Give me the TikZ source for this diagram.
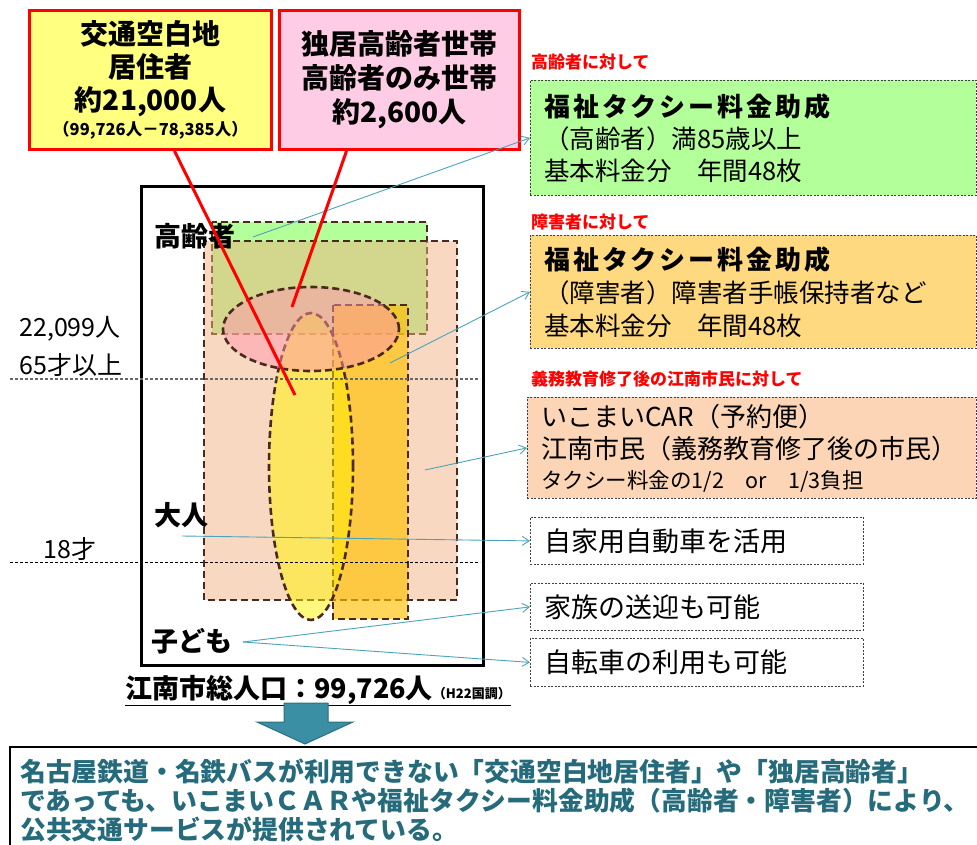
\documentclass[tikz,border=0pt]{standalone}
\usepackage{fontspec}
\setmainfont{Noto Sans CJK JP}
\usetikzlibrary{arrows.meta}
\newcommand{\myfs}[2]{\fontsize{#1}{#2}\selectfont}
\definecolor{ybfill}{HTML}{FFFF80}
\definecolor{pkfill}{HTML}{FFCCE5}
\definecolor{grfill}{HTML}{B3FF99}
\definecolor{orfill}{HTML}{FFD97F}
\definecolor{pcfill}{HTML}{FBD5B5}
\definecolor{brn}{HTML}{4A2A1E}
\definecolor{tealc}{HTML}{4BA3BC}
\definecolor{arrfill}{HTML}{3A8FA5}
\definecolor{arrdraw}{HTML}{2B6F80}
\definecolor{txtteal}{HTML}{256B7B}
\definecolor{peach}{HTML}{F4B183}
\definecolor{orng}{HTML}{FFC000}
\definecolor{pnk}{HTML}{FF96AF}
\begin{document}
\begin{tikzpicture}[x=1pt,y=-1pt,
  redbox/.style={draw=red, line width=3pt, align=center, inner sep=0pt, anchor=north west},
  svcbox/.style={draw=black!75, dash pattern=on 2pt off 1.5pt, line width=0.8pt, anchor=north west, align=left, inner xsep=14pt, inner ysep=0pt},
  redlbl/.style={anchor=west, text=red, font=\myfs{17}{20}\bfseries, inner sep=0pt},
  shp/.style={draw=brn, line width=2.6pt, dash pattern=on 7pt off 4pt},
  conn/.style={draw=tealc, line width=0.9pt, -{Straight Barb[length=7pt,width=9pt]}},
  redln/.style={draw=red, line width=3pt},
  lbl/.style={inner sep=0pt, font=\myfs{25}{28}},
  blbl/.style={inner sep=0pt, font=\myfs{27}{30}\bfseries}]
\useasboundingbox (0,0) rectangle (977,845);

% top call-out boxes
\node[redbox, fill=ybfill, minimum width=242pt, minimum height=139pt, font=\myfs{28}{33}\bfseries] (ybox) at (28,9)
  {交通空白地\\居住者\\約21,000人\\[-8pt]{\myfs{16.5}{18}\bfseries（99,726人－78,385人）}};
\node[redbox, fill=pkfill, minimum width=240pt, minimum height=139pt, font=\myfs{28}{34}\bfseries] (pbox) at (278,9)
  {独居高齢者世帯\\高齢者のみ世帯\\約2,600人};

% population frame
\node[draw, line width=3pt, minimum width=342pt, minimum height=479pt, anchor=north west, inner sep=0pt] (pop) at (140,185) {};

% overlapping groups
\draw[shp, fill=grfill] (212,222) rectangle (427,334);
\draw[shp, fill=peach, fill opacity=0.5] (204,241) rectangle (457,600);
\draw[shp, fill=orng, fill opacity=0.65] (333,305) rectangle (408,619);
\draw[shp, fill=yellow, fill opacity=0.5] (311,466.5) ellipse [x radius=42pt, y radius=153.5pt];
\draw[shp, fill=pnk, fill opacity=0.5] (311,329) ellipse [x radius=88pt, y radius=42pt];

% age lines
\draw[black!60, line width=1.2pt, dash pattern=on 3pt off 2pt] (10,379) -- (480,379);
\draw[black, line width=0.8pt, dash pattern=on 3pt off 2pt] (10,562) -- (480,562);

% left labels
\node[lbl] (n1) at (70,329) {22,099人};
\node[lbl] (n2) at (71,365) {65才以上};
\node[lbl] (n3) at (70,549) {18才};
\node[blbl] (old) at (195,236) {高齢者};
\node[blbl] (adult) at (181,515) {大人};
\node[blbl] (child) at (192,641) {子ども};

% caption
\node[anchor=base, inner sep=0pt, font=\myfs{27}{30}\bfseries] (cap) at (318,698)
  {\underline{江南市総人口：99,726人{\myfs{13}{15}\bfseries（H22国調）}}};

% right side labels and boxes
\node[redlbl] (l1) at (531,62) {高齢者に対して};
\node[svcbox, fill=grfill, minimum width=446pt, minimum height=115pt, text width=418pt, font=\myfs{25.5}{32}] (gbox) at (530,80)
  {{\myfs{26}{32}\bfseries\addfontfeature{LetterSpace=11}福祉タクシー料金助成}\\
   （高齢者）満85歳以上\\
   基本料金分　年間48枚};
\node[redlbl] (l2) at (531,222) {障害者に対して};
\node[svcbox, fill=orfill, minimum width=446pt, minimum height=113pt, text width=418pt, font=\myfs{25.5}{33}] (obox) at (530,235)
  {{\myfs{26}{33}\bfseries\addfontfeature{LetterSpace=11}福祉タクシー料金助成}\\
   （障害者）障害者手帳保持者など\\
   基本料金分　年間48枚};
\node[redlbl] (l3) at (531,379) {義務教育修了後の江南市民に対して};
\node[svcbox, fill=pcfill, minimum width=449pt, minimum height=101pt, text width=421pt, font=\myfs{26}{32}] (cbox) at (527,397)
  {いこまいCAR（予約便）\\
   江南市民（義務教育修了後の市民）\\[-2pt]
   {\myfs{21.5}{26}タクシー料金の1/2　or　1/3負担}};
\node[svcbox, fill=white, minimum width=333pt, minimum height=47pt, text width=305pt, font=\myfs{27}{30}] (w1) at (530,517)
  {自家用自動車を活用};
\node[svcbox, fill=white, minimum width=333pt, minimum height=47pt, text width=305pt, font=\myfs{27}{30}] (w2) at (530,583)
  {家族の送迎も可能};
\node[svcbox, fill=white, minimum width=333pt, minimum height=48pt, text width=305pt, font=\myfs{27}{30}] (w3) at (530,638)
  {自転車の利用も可能};

% teal connectors
\coordinate (kA) at (253,237);
\coordinate (oA) at (390,363);
\coordinate (pA) at (425,470);
\coordinate (aA) at (182,536);
\coordinate (cA) at (243,642);
\draw[conn] (kA) -- (gbox.west);
\draw[conn] (oA) -- (obox.west);
\draw[conn] (pA) -- (cbox.west);
\draw[conn] (aA) -- (w1.west);
\draw[conn] (cA) -- (w2.west);
\draw[conn] (cA) -- (w3.west);

% red pointer lines
\coordinate (yT) at (295,395);
\coordinate (pT) at (292,307);
\draw[redln] ([xshift=24pt]ybox.south) -- (yT);
\draw[redln] ([xshift=-53pt]pbox.south) -- (pT);

% down arrow
\draw[fill=arrfill, draw=arrdraw, line width=1pt, line join=miter]
  (284,703) -- (328,703) -- (328,722) -- (353,722) -- (305,744) -- (257,722) -- (284,722) -- cycle;

% summary box
\draw[line width=1.5pt] (10,747) rectangle (995,870);
\node[anchor=north west, align=left, inner sep=0pt, text=txtteal, font=\myfs{25.8}{29}\bfseries] (sum) at (20,759)
  {名古屋鉄道・名鉄バスが利用できない「交通空白地居住者」や「独居高齢者」\\
   であっても、いこまいＣＡＲや福祉タクシー料金助成（高齢者・障害者）により、\\
   公共交通サービスが提供されている。};
\end{tikzpicture}
\end{document}
